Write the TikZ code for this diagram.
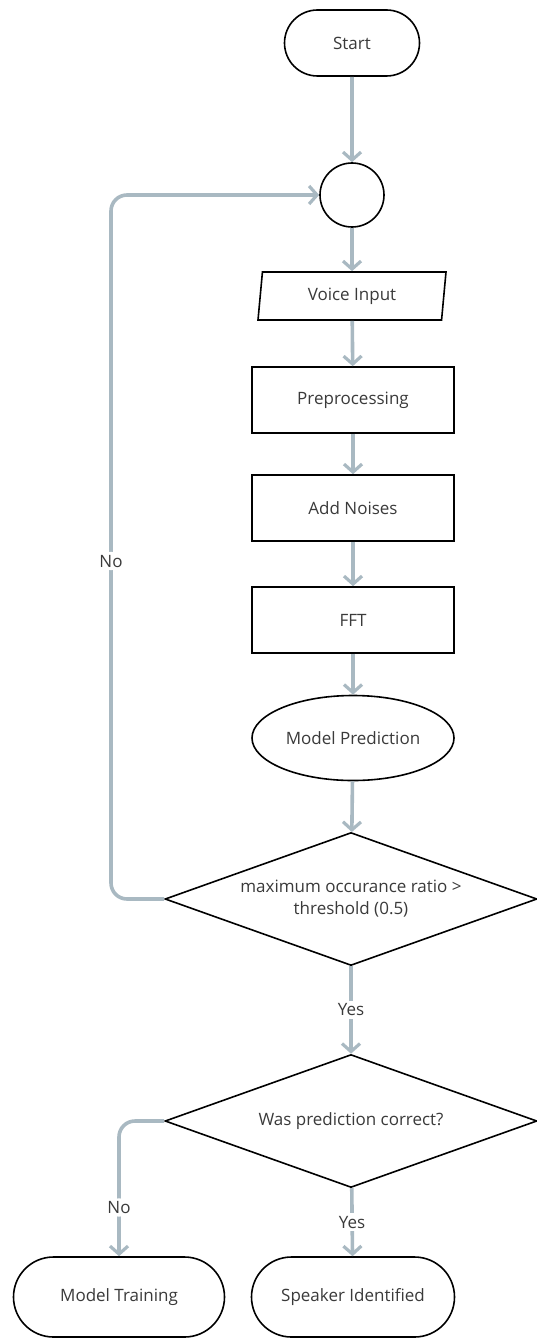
\documentclass[tikz,border=0pt]{standalone}
\usepackage{fontspec}
\setmainfont{Open Sans}
\usepackage{tikz}
\usetikzlibrary{shapes.geometric,shapes.misc,arrows.meta}

\definecolor{flowgray}{HTML}{A9B9C2}
\definecolor{textgray}{HTML}{3A3A3A}

\tikzset{
  box/.style={draw=black,line width=1.6pt,fill=white,text=textgray,
    font=\fontsize{17}{22}\selectfont,align=center,inner sep=0pt},
  terminal/.style={box,rounded rectangle},
  proc/.style={box,rectangle,minimum width=202,minimum height=66},
  io/.style={box,trapezium,trapezium left angle=75,trapezium right angle=105,
    trapezium stretches body,minimum width=188,minimum height=48},
  decide/.style={box,diamond,aspect=2.8,minimum width=372,minimum height=133},
  joint/.style={box,circle,minimum size=64},
  flow/.style={draw=flowgray,line width=3.6pt,
    -{Straight Barb[length=8pt,width=18pt,line width=3.2pt]}},
  tag/.style={fill=white,text=textgray,font=\fontsize{17}{22}\selectfont,inner sep=3pt}
}

\begin{document}
\begin{tikzpicture}[x=1pt,y=-1pt]
\useasboundingbox (0,0) rectangle (537,1340);

\node[terminal,minimum width=135,minimum height=66] (start) at (352,43) {Start};
\node[joint] (join) at (352,195) {};
\node[io] (voice) at (352,296) {Voice Input};
\node[proc] (pre) at (353,400) {Preprocessing};
\node[proc] (noise) at (353,508) {Add Noises};
\node[proc] (fft) at (353,620) {FFT};
\node[box,ellipse,minimum width=202,minimum height=85] (pred) at (353,738) {Model Prediction};
\node[decide] (ratio) at (351,899) {maximum occurance ratio >\\threshold (0.5)};
\node[decide] (check) at (351,1121) {Was prediction correct?};
\node[terminal,minimum width=211,minimum height=80] (train) at (119,1297) {Model Training};
\node[terminal,minimum width=203,minimum height=80] (ident) at (353,1297) {Speaker Identified};

\coordinate (loop) at (111,195);

\draw[flow] (start) -- (join);
\draw[flow] (join) -- (voice);
\draw[flow] (voice) -- (pre);
\draw[flow] (pre) -- (noise);
\draw[flow] (noise) -- (fft);
\draw[flow] (fft) -- (pred);
\draw[flow] (pred) -- (ratio);
\draw[flow,rounded corners=16] (ratio.west) -| (loop) node[tag,pos=0.74] {No} -- (join);
\draw[flow] (ratio) -- node[tag] {Yes} (check);
\draw[flow,rounded corners=16] (check.west) -| node[tag,pos=0.82] {No} (train);
\draw[flow] (check) -- node[tag] {Yes} (ident);
\end{tikzpicture}
\end{document}
